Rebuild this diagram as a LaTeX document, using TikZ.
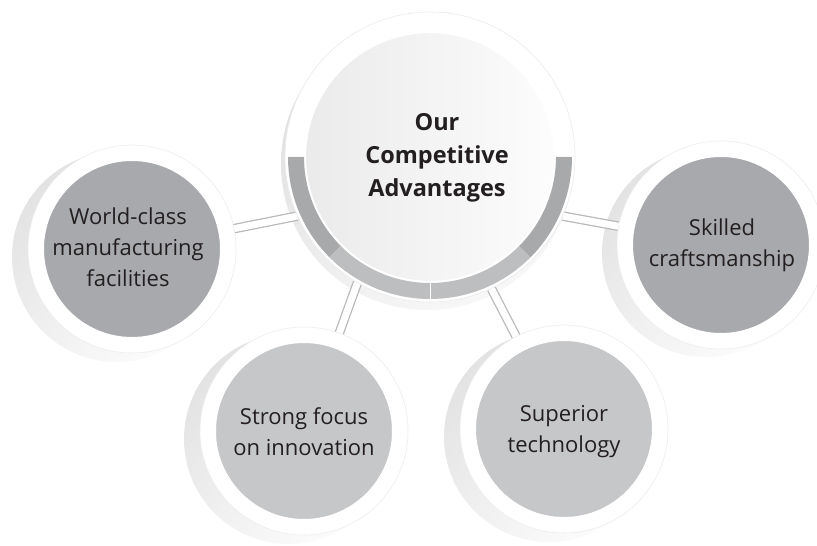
\documentclass[tikz,border=0pt]{standalone}
\usepackage{fontspec}
\setmainfont{Open Sans}
\usetikzlibrary{calc}
\definecolor{txt}{HTML}{231F20}
\definecolor{satdark}{HTML}{A7A9AC}
\definecolor{satlight}{HTML}{C6C7C9}
\definecolor{banddark}{HTML}{A8A9AB}
\definecolor{bandlight}{HTML}{BDBEC0}
\pgfdeclarelayer{bg}
\pgfsetlayers{bg,main}
\tikzset{
  sat/.style={circle, minimum size=192pt, inner sep=0pt, draw=white, line width=16pt, fill=#1},
  satrim/.style={draw=black!7, line width=0.6pt},
  conn/.style={draw=black!28, line width=9.5pt},
  conninner/.style={draw=white, line width=7pt},
  sattext/.style={align=center, text=txt, font=\fontsize{22pt}{31pt}\selectfont},
  centtext/.style={align=center, text=txt, font=\fontsize{23.5pt}{33pt}\selectfont\bfseries},
  shadowc/.style={left color=black!11, right color=black!1, shading angle=45},
}
\begin{document}
\begin{tikzpicture}[x=1pt,y=1pt]
\useasboundingbox (0,0) rectangle (817,546);
\clip (0,0) rectangle (817,546);

% central node
\node[circle, minimum size=290pt, inner sep=0pt, fill=white] (C) at (430,389) {};
% satellites
\node[sat=satdark] (WS) at (132,297) {};
\node[sat=satdark] (SC) at (721,301) {};
\node[sat=satlight] (SF) at (304,115) {};
\node[sat=satlight] (ST) at (564,117) {};

\begin{pgfonlayer}{bg}
  \fill[white] (0,0) rectangle (817,546);
  % shadows
  \shade[shadowc] ($(WS)+(-15,-8)$) circle[radius=105pt];
  \shade[shadowc] ($(SC)+(-15,-8)$) circle[radius=104pt];
  \shade[shadowc] ($(SF)+(-15,-8)$) circle[radius=105pt];
  \shade[shadowc] ($(ST)+(-15,-8)$) circle[radius=105pt];
  \shade[left color=black!13, right color=black!3, shading angle=30] ($(C)+(-3,-7)$) circle[radius=146pt];
  % connectors
  \draw[conn] (C.204) -- (WS);
  \draw[conninner] (C.204) -- (WS);
  \draw[conn] (C.336) -- (SC);
  \draw[conninner] (C.336) -- (SC);
  \draw[conn] (C.240) -- (SF);
  \draw[conninner] (C.240) -- (SF);
  \draw[conn] (C.295) -- (ST);
  \draw[conninner] (C.295) -- (ST);
\end{pgfonlayer}

% rims of satellites
\foreach \n in {WS,SC,SF,ST} {\draw[satrim] (\n) circle[radius=104pt];}

% central details
\draw[black!8, line width=0.6pt] (C) circle[radius=145pt];
\fill[banddark] ($(C)+(180:142pt)$) arc[start angle=180,end angle=225,radius=142pt]
   -- ($(C)+(225:126pt)$) arc[start angle=225,end angle=180,radius=126pt] -- cycle;
\fill[bandlight] ($(C)+(225:142pt)$) arc[start angle=225,end angle=315,radius=142pt]
   -- ($(C)+(315:126pt)$) arc[start angle=315,end angle=225,radius=126pt] -- cycle;
\fill[banddark] ($(C)+(315:142pt)$) arc[start angle=315,end angle=360,radius=142pt]
   -- ($(C)+(0:126pt)$) arc[start angle=0,end angle=-45,radius=126pt] -- cycle;
\draw[white, line width=0.5pt] ($(C)+(270:126pt)$) -- ($(C)+(270:142pt)$);
\shade[left color=black!8, right color=black!1] (C) circle[radius=124pt];
\draw[white, line width=1.2pt] (C) circle[radius=124.5pt];

% texts
\node[centtext] (tC) at (437,388) {Our\\Competitive\\Advantages};
\node[sattext] (tWS) at (128,299) {World-class\\manufacturing\\facilities};
\node[sattext] (tSC) at (722,301) {Skilled\\craftsmanship};
\node[sattext] (tSF) at (304,114) {Strong focus\\on innovation};
\node[sattext] (tST) at (564,114) {Superior\\technology};
\end{tikzpicture}
\end{document}
